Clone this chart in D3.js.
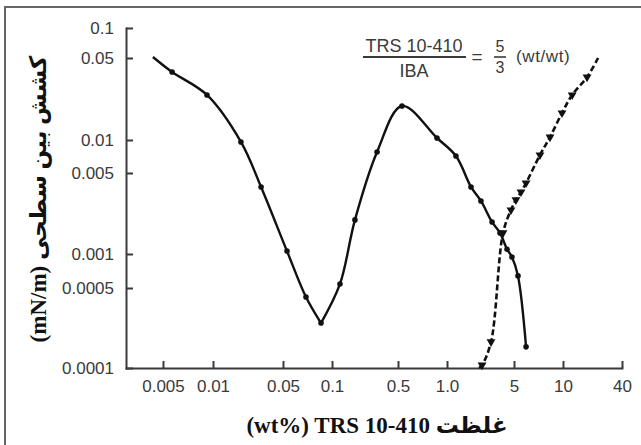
<!DOCTYPE html>
<html>
<head>
<meta charset="utf-8">
<script src="https://cdn.jsdelivr.net/npm/d3@7"></script>
<style>
    html, body { margin: 0; padding: 0; background: #fff; }
    svg { display: block; }
    .axis text { font-family: 'Liberation Sans', Arial, sans-serif; font-size: 17px; fill: #3a3a3a; }
    .axis path, .axis line { stroke: #3a3a3a; stroke-width: 2; }
    .title { font-family: 'Liberation Serif', 'DejaVu Sans', serif; font-weight: bold; font-size: 23px; fill: #111; }
    .note { font-family: 'Liberation Sans', Arial, sans-serif; fill: #3a3a3a; }
</style>
</head>
<body>
<svg id="chart" width="641" height="445"></svg>
<script>
// ===== DATA =====
const xTicks      = [0.005, 0.01, 0.05, 0.1, 0.5, 1, 5, 10, 40];
const xTickLabels = ['0.005', '0.01', '0.05', '0.1', '0.5', '1.0', '5', '10', '40'];
const yTicks      = [0.0001, 0.0005, 0.001, 0.005, 0.01, 0.05, 0.1];
const yTickLabels = ['0.0001', '0.0005', '0.001', '0.005', '0.01', '0.05', '0.1'];
const xMin = 0.003;

// solid curve (circles); the line begins a little before the first marker
const solidStart = [0.00435, 0.0512];
const solidX = [0.00567, 0.0092, 0.019, 0.0302, 0.0529, 0.0692, 0.0856, 0.1215, 0.175, 0.30,
                0.529, 0.868, 1.24, 1.78, 2.26, 2.95, 3.57, 4.23, 4.76, 5.29, 5.93];
const solidY = [0.038, 0.0242, 0.0096, 0.00379, 0.00106, 0.000417, 0.000247, 0.000543, 0.00197, 0.00777,
                0.0195, 0.0104, 0.00714, 0.00379, 0.00287, 0.00189, 0.00152, 0.0011, 0.00094, 0.00064, 0.000153];

// dashed curve (triangles)
const dashedStart = [2.16, 0.0001];
const dashedEnd   = [22.8, 0.05];
const dashedX = [2.32, 2.88, 3.84, 4.65, 5.14, 5.52, 5.93, 7.22, 8.32, 9.86, 12.4, 17.6];
const dashedY = [0.000106, 0.000169, 0.00152, 0.0024, 0.00293, 0.00343, 0.0041, 0.0073, 0.0106, 0.017, 0.0242, 0.0344];


// ===== SCALES =====
// the printed axes are not evenly spaced, so both scales are piecewise log
const svg = d3.select('#chart');

const x = d3.scaleLog()
    .domain([xMin, ...xTicks])
    .range([126, 163, 213, 283, 332, 398, 447, 514, 563, 622]);

const y = d3.scaleLog()
    .domain(yTicks)
    .range([368, 288, 254, 173, 140, 58, 28]);

// frame (top and left only)
svg.append('path')
    .attr('d', 'M5,445V7H641')
    .attr('fill', 'none')
    .attr('stroke', '#666')
    .attr('stroke-width', 2);


// ===== AXES =====
svg.append('g')
    .attr('class', 'axis')
    .attr('transform', `translate(0,${y(yTicks[0])})`)
    .call(d3.axisBottom(x)
        .tickValues(xTicks)
        .tickFormat((d, i) => xTickLabels[i])
        .tickSizeInner(-7)
        .tickSizeOuter(0)
        .tickPadding(12));

svg.append('g')
    .attr('class', 'axis')
    .attr('transform', `translate(${x(xMin)},0)`)
    .call(d3.axisLeft(y)
        .tickValues(yTicks)
        .tickFormat((d, i) => yTickLabels[i])
        .tickSizeInner(-7)
        .tickSizeOuter(0)
        .tickPadding(12));

svg.selectAll('.axis .domain').attr('stroke-linecap', 'square');


// ===== CURVES =====
const line = d3.line()
    .x(d => x(d[0]))
    .y(d => y(d[1]))
    .curve(d3.curveCatmullRom.alpha(0.5));

const solidPts = [solidStart, ...solidX.map((v, i) => [v, solidY[i]])];

// split at the first dip so the V stays sharp
let dip = 1;
while (dip < solidPts.length - 1 && !(solidPts[dip][1] < solidPts[dip - 1][1] && solidPts[dip][1] < solidPts[dip + 1][1])) dip++;

[solidPts.slice(0, dip + 1), solidPts.slice(dip)].forEach(seg => {
    svg.append('path')
        .attr('d', line(seg))
        .attr('fill', 'none')
        .attr('stroke', '#111')
        .attr('stroke-width', 2.4);
});

const dashedPts = [dashedStart, ...dashedX.map((v, i) => [v, dashedY[i]]), dashedEnd];

svg.append('path')
    .attr('d', line(dashedPts))
    .attr('fill', 'none')
    .attr('stroke', '#111')
    .attr('stroke-width', 2.6)
    .attr('stroke-dasharray', '6,3');

// markers
svg.selectAll('.dot')
    .data(solidX.map((v, i) => [v, solidY[i]]))
    .enter().append('circle')
    .attr('class', 'dot')
    .attr('cx', d => x(d[0]))
    .attr('cy', d => y(d[1]))
    .attr('r', 2.8)
    .attr('fill', '#111');

svg.selectAll('.tri')
    .data(dashedX.map((v, i) => [v, dashedY[i]]))
    .enter().append('path')
    .attr('class', 'tri')
    .attr('d', d3.symbol(d3.symbolTriangle, 34))
    .attr('transform', d => `translate(${x(d[0])},${y(d[1])}) rotate(180)`)
    .attr('fill', '#111');


// ===== TITLES =====
svg.append('text')
    .attr('class', 'title')
    .attr('x', 377)
    .attr('y', 433)
    .attr('text-anchor', 'middle')
    .attr('direction', 'ltr')
    .text('(wt%) TRS 10-410 غلظت');

svg.append('text')
    .attr('class', 'title')
    .attr('transform', 'translate(46,199) rotate(-90)')
    .attr('text-anchor', 'middle')
    .attr('direction', 'ltr')
    .text('(mN/m) کشش بین سطحی');


// ===== RATIO NOTE =====
const note = svg.append('g').attr('class', 'note');

note.append('text').attr('x', 414).attr('y', 52).attr('text-anchor', 'middle')
    .style('font-size', '18px').text('TRS 10-410');
note.append('line').attr('x1', 363).attr('x2', 466).attr('y1', 57).attr('y2', 57)
    .attr('stroke', '#3a3a3a').attr('stroke-width', 1.8);
note.append('text').attr('x', 414).attr('y', 77).attr('text-anchor', 'middle')
    .style('font-size', '18px').text('IBA');

note.append('text').attr('x', 477).attr('y', 63).attr('text-anchor', 'middle')
    .style('font-size', '19px').text('=');

note.append('text').attr('x', 500).attr('y', 52).attr('text-anchor', 'middle')
    .style('font-size', '16px').text('5');
note.append('line').attr('x1', 494).attr('x2', 506).attr('y1', 57).attr('y2', 57)
    .attr('stroke', '#3a3a3a').attr('stroke-width', 1.6);
note.append('text').attr('x', 500).attr('y', 73).attr('text-anchor', 'middle')
    .style('font-size', '16px').text('3');

note.append('text').attr('x', 516).attr('y', 62)
    .style('font-size', '17px').style('letter-spacing', '0.6px').text('(wt/wt)');
</script>
</body>
</html>
